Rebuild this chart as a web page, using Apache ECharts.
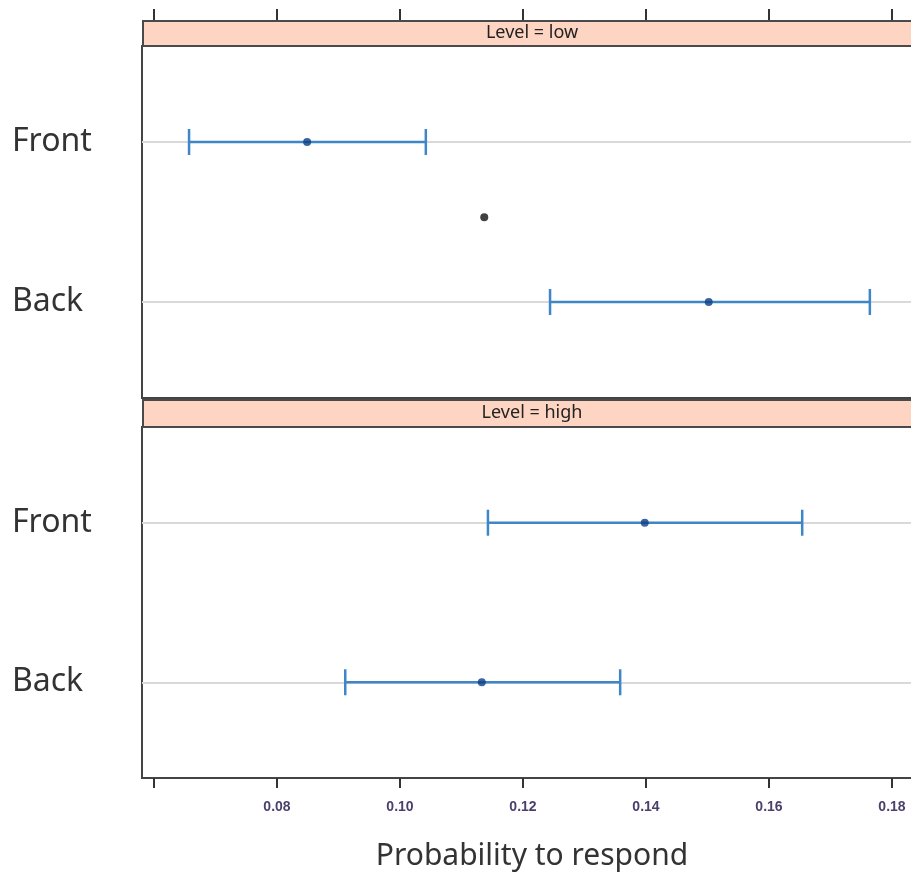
<!DOCTYPE html>
<html>
<head>
<meta charset="utf-8">
<script src="https://cdn.jsdelivr.net/npm/echarts@6/dist/echarts.min.js"></script>
<style>
  html, body { margin: 0; padding: 0; background: #fff; }
  #chart { width: 911px; height: 875px; }
</style>
</head>
<body>
<div id="chart"></div>
<script>
// position on the y axis: Back = 1, Front = 2
const positions = ['Back', 'Front']
const tickValues = [0.06, 0.08, 0.10, 0.12, 0.14, 0.16, 0.18]
const labelValues = [0.08, 0.10, 0.12, 0.14, 0.16, 0.18]

// Level = low
const lowEst = [0.1502, 0.0849]
const lowLower = [0.1244, 0.0657]
const lowUpper = [0.1764, 0.1042]
// Level = high
const highEst = [0.1133, 0.1398]
const highLower = [0.0911, 0.1143]
const highUpper = [0.1358, 0.1654]
// stray black dot in the low panel
const strayDot = [[0.1137, 1.53]]

const barColor = '#3f86c8'
const dotColor = '#0b3d84'
const font = 'Noto Sans'

const toBars = (lo, hi) => lo.map((v, i) => [v, hi[i], i + 1])
const toPoints = (est) => est.map((v, i) => [v, i + 1])

const renderBar = (params, api) => {
  const a = api.coord([api.value(0), api.value(2)])
  const b = api.coord([api.value(1), api.value(2)])
  const h = 13
  const style = { stroke: barColor, lineWidth: 2.5, fill: null }
  return {
    type: 'group',
    children: [
      { type: 'line', shape: { x1: a[0], y1: a[1], x2: b[0], y2: b[1] }, style },
      { type: 'line', shape: { x1: a[0], y1: a[1] - h, x2: a[0], y2: a[1] + h }, style },
      { type: 'line', shape: { x1: b[0], y1: b[1] - h, x2: b[0], y2: b[1] + h }, style },
    ],
  }
}

// grey reference line for each position, drawn under the bars
const refSeries = (idx) => ({
  type: 'scatter', xAxisIndex: idx, yAxisIndex: idx, data: [], z: 1,
  markLine: {
    z: 1,
    silent: true,
    symbol: 'none',
    label: { show: false },
    lineStyle: { color: '#d9d9d9', width: 2, type: 'solid' },
    data: [{ yAxis: 1 }, { yAxis: 2 }],
  },
})

const yAxisBase = (gridIndex) => ({
  type: 'value',
  gridIndex,
  min: 0.4,
  max: 2.6,
  axisLine: { show: false },
  axisTick: { show: false },
  splitLine: { show: false },
  axisLabel: {
    customValues: [1, 2],
    formatter: (v) => positions[Math.round(v) - 1],
    align: 'left',
    margin: 130,
    fontSize: 32,
    fontFamily: font,
    color: '#333',
  },
})

const xMin = 0.05805
const xMax = 0.18488

const chart = echarts.init(document.getElementById('chart'))
chart.setOption({
  animation: false,
  backgroundColor: '#fff',
  grid: [
    { left: 142, width: 780, top: 46, height: 352, outerBoundsMode: 'none', containLabel: false, show: true, borderColor: '#444', borderWidth: 2 },
    { left: 142, width: 780, top: 427, height: 351, outerBoundsMode: 'none', containLabel: false, show: true, borderColor: '#444', borderWidth: 2 },
  ],
  xAxis: [
    {
      type: 'value', gridIndex: 0, min: xMin, max: xMax, position: 'top', offset: 26,
      axisLine: { show: false },
      axisTick: { show: true, customValues: tickValues, length: 11, lineStyle: { color: '#333', width: 2 } },
      axisLabel: { show: false },
      splitLine: { show: false },
    },
    {
      type: 'value', gridIndex: 1, min: xMin, max: xMax, position: 'bottom',
      axisLine: { show: false },
      axisTick: { show: true, customValues: tickValues, length: 10, lineStyle: { color: '#333', width: 2 } },
      axisLabel: {
        customValues: labelValues,
        formatter: (v) => v.toFixed(2),
        margin: 22,
        fontSize: 14,
        fontWeight: 'bold',
        fontFamily: 'Liberation Sans',
        color: '#4b3f6b',
      },
      splitLine: { show: false },
      name: 'Probability to respond',
      nameLocation: 'middle',
      nameGap: 63,
      nameTextStyle: { fontSize: 30, fontFamily: font, color: '#333' },
    },
  ],
  yAxis: [yAxisBase(0), yAxisBase(1)],
  graphic: [
    {
      type: 'rect', left: 142, top: 20, z: 10,
      shape: { width: 800, height: 25 },
      style: { fill: '#fdd5c2', stroke: '#4a4a4a', lineWidth: 2 },
    },
    {
      type: 'text', x: 532, y: 33, z: 11,
      style: { text: 'Level = low', fontSize: 18, fontFamily: font, fill: '#222', align: 'center', verticalAlign: 'middle' },
    },
    {
      type: 'rect', left: 142, top: 399, z: 10,
      shape: { width: 800, height: 27 },
      style: { fill: '#fdd5c2', stroke: '#4a4a4a', lineWidth: 2 },
    },
    {
      type: 'text', x: 532, y: 413, z: 11,
      style: { text: 'Level = high', fontSize: 18, fontFamily: font, fill: '#222', align: 'center', verticalAlign: 'middle' },
    },
  ],
  series: [
    refSeries(0),
    { type: 'custom', xAxisIndex: 0, yAxisIndex: 0, renderItem: renderBar, data: toBars(lowLower, lowUpper), encode: { x: [0, 1], y: 2 }, z: 3 },
    { type: 'scatter', xAxisIndex: 0, yAxisIndex: 0, data: toPoints(lowEst), symbolSize: 8, itemStyle: { color: dotColor }, z: 4 },
    { type: 'scatter', xAxisIndex: 0, yAxisIndex: 0, data: strayDot, symbolSize: 8, itemStyle: { color: '#111' }, z: 4 },
    refSeries(1),
    { type: 'custom', xAxisIndex: 1, yAxisIndex: 1, renderItem: renderBar, data: toBars(highLower, highUpper), encode: { x: [0, 1], y: 2 }, z: 3 },
    { type: 'scatter', xAxisIndex: 1, yAxisIndex: 1, data: toPoints(highEst), symbolSize: 8, itemStyle: { color: dotColor }, z: 4 },
  ],
})
</script>
</body>
</html>
